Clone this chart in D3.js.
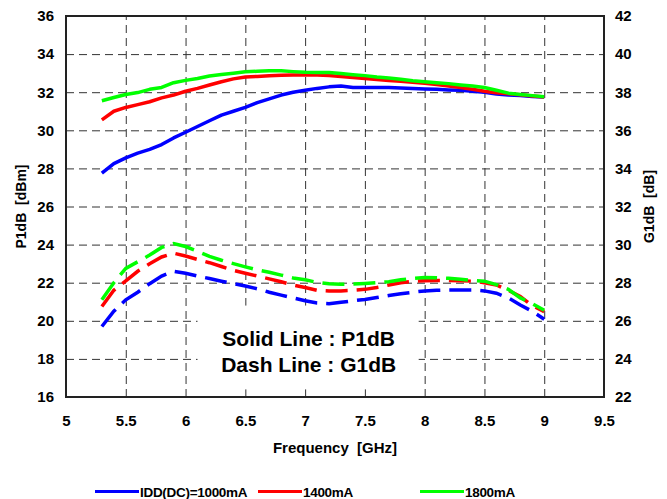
<!DOCTYPE html>
<html>
<head>
<meta charset="utf-8">
<script src="https://cdn.jsdelivr.net/npm/d3@7"></script>
<style>
  body { margin: 0; background: #fff; }
  text { font-family: "Liberation Sans", Arial, sans-serif; font-weight: bold; fill: #000; }
</style>
</head>
<body>
<svg id="chart" width="667" height="499"></svg>
<script>
// frequency points (GHz)
var freq = [5.3, 5.4, 5.5, 5.6, 5.7, 5.8, 5.9, 6.0, 6.1, 6.2, 6.3, 6.4, 6.5, 6.6, 6.7, 6.8, 6.9, 7.0,
            7.1, 7.2, 7.3, 7.4, 7.5, 7.6, 7.7, 7.8, 7.9, 8.0, 8.1, 8.2, 8.3, 8.4, 8.5, 8.6, 8.7, 8.8, 8.9, 9.0];

// P1dB [dBm], left axis (solid lines)
var p1db1000 = [27.75, 28.25, 28.55, 28.8, 29.0, 29.25, 29.6, 29.9, 30.2, 30.5, 30.8, 31.0, 31.2, 31.45, 31.65, 31.85, 32.0, 32.1,
                32.2, 32.28, 32.33, 32.25, 32.25, 32.25, 32.25, 32.22, 32.2, 32.17, 32.15, 32.12, 32.1, 32.05, 32.0, 31.9, 31.85, 31.83, 31.78, 31.75];
var p1db1400 = [30.55, 31.0, 31.2, 31.35, 31.5, 31.7, 31.85, 32.05, 32.2, 32.38, 32.55, 32.7, 32.8, 32.83, 32.86, 32.89, 32.9, 32.9,
                32.9, 32.88, 32.82, 32.77, 32.72, 32.67, 32.62, 32.57, 32.52, 32.47, 32.4, 32.32, 32.24, 32.15, 32.05, 31.97, 31.92, 31.87, 31.8, 31.75];
var p1db1800 = [31.55, 31.72, 31.88, 31.98, 32.15, 32.25, 32.5, 32.62, 32.72, 32.85, 32.93, 33.0, 33.07, 33.1, 33.13, 33.12, 33.08, 33.05,
                33.04, 33.03, 32.98, 32.92, 32.87, 32.8, 32.75, 32.68, 32.6, 32.55, 32.5, 32.45, 32.38, 32.32, 32.25, 32.1, 31.95, 31.88, 31.82, 31.76];

// G1dB [dB], right axis (dashed lines)
var g1db1000 = [25.7, 26.5, 27.1, 27.5, 27.95, 28.35, 28.6, 28.5, 28.35, 28.22, 28.08, 27.95, 27.83, 27.68, 27.5, 27.35, 27.2, 27.05,
                26.93, 26.9, 26.97, 27.05, 27.12, 27.22, 27.33, 27.42, 27.5, 27.57, 27.6, 27.62, 27.62, 27.62, 27.57, 27.45, 27.2, 26.83, 26.5, 26.08];
var g1db1400 = [26.75, 27.6, 28.1, 28.6, 29.0, 29.35, 29.55, 29.4, 29.22, 29.05, 28.85, 28.65, 28.5, 28.35, 28.2, 28.05, 27.88, 27.75,
                27.6, 27.57, 27.57, 27.6, 27.65, 27.75, 27.88, 28.0, 28.07, 28.1, 28.12, 28.12, 28.1, 28.08, 28.0, 27.88, 27.6, 27.27, 26.8, 26.48];
var g1db1800 = [27.1, 28.0, 28.75, 29.1, 29.45, 29.85, 30.05, 29.9, 29.65, 29.38, 29.18, 29.0, 28.83, 28.67, 28.55, 28.4, 28.25, 28.15,
                28.02, 27.95, 27.92, 27.93, 27.96, 28.0, 28.05, 28.15, 28.22, 28.27, 28.26, 28.23, 28.18, 28.12, 28.08, 27.9, 27.65, 27.2, 26.9, 26.55];

var seriesNames = ["IDD(DC)=1000mA", "1400mA", "1800mA"];
var seriesColors = ["#0000ff", "#ff0000", "#00ff00"];

var xTicks = [5, 5.5, 6, 6.5, 7, 7.5, 8, 8.5, 9, 9.5];
var yLeftTicks = [16, 18, 20, 22, 24, 26, 28, 30, 32, 34, 36];
var yRightTicks = [22, 24, 26, 28, 30, 32, 34, 36, 38, 40, 42];

var margin = {top: 16, right: 63, bottom: 102, left: 66},
    width = 667 - margin.left - margin.right,
    height = 499 - margin.top - margin.bottom;

var svg = d3.select("#chart");
var g = svg.append("g").attr("transform", "translate(" + margin.left + "," + margin.top + ")");

var x = d3.scaleLinear().domain([5, 9.5]).range([0, width]);
var yL = d3.scaleLinear().domain([16, 36]).range([height, 0]);
var yR = d3.scaleLinear().domain([22, 42]).range([height, 0]);

// grid
var gridX = g.append("g").attr("transform", "translate(0," + height + ")")
  .call(d3.axisBottom(x).tickValues(xTicks.slice(1, -1)).tickSize(-height).tickFormat(""));
var gridY = g.append("g")
  .call(d3.axisLeft(yL).tickValues(yLeftTicks.slice(1, -1)).tickSize(-width).tickFormat(""));
[gridX, gridY].forEach(function(a) {
  a.select(".domain").remove();
  a.selectAll("line").attr("stroke", "#333").attr("stroke-width", 1).attr("stroke-dasharray", "8,5");
});

// white text box covering the grid
g.append("rect")
  .attr("x", x(6.1)).attr("y", yL(20.8))
  .attr("width", x(7.95) - x(6.1)).attr("height", yL(16.4) - yL(20.8))
  .attr("fill", "#fff");

// lines
var solid = d3.line().x(function(d, i) { return x(freq[i]); }).y(function(d) { return yL(d); });
var dashed = d3.line().x(function(d, i) { return x(freq[i]); }).y(function(d) { return yR(d); });

var p1 = [p1db1000, p1db1400, p1db1800];
var g1 = [g1db1000, g1db1400, g1db1800];

g1.forEach(function(s, k) {
  g.append("path").datum(s)
    .attr("d", dashed)
    .attr("fill", "none")
    .attr("stroke", seriesColors[k])
    .attr("stroke-width", 3.5)
    .attr("stroke-dasharray", "22,9");
});
p1.forEach(function(s, k) {
  g.append("path").datum(s)
    .attr("d", solid)
    .attr("fill", "none")
    .attr("stroke", seriesColors[k])
    .attr("stroke-width", 3.5)
    .attr("stroke-linejoin", "round");
});

// frame
g.append("rect").attr("width", width).attr("height", height)
  .attr("fill", "none").attr("stroke", "#222").attr("stroke-width", 2);

// tick labels
var axX = g.append("g").attr("transform", "translate(0," + height + ")")
  .call(d3.axisBottom(x).tickValues(xTicks).tickSize(0).tickPadding(18).tickFormat(d3.format("")));
var axL = g.append("g")
  .call(d3.axisLeft(yL).tickValues(yLeftTicks).tickSize(0).tickPadding(12).tickFormat(d3.format("d")));
var axR = g.append("g").attr("transform", "translate(" + width + ",0)")
  .call(d3.axisRight(yR).tickValues(yRightTicks).tickSize(0).tickPadding(11).tickFormat(d3.format("d")));
[axX, axL, axR].forEach(function(a) {
  a.select(".domain").remove();
  a.selectAll("text").attr("font-size", 15).attr("font-family", null).attr("fill", "#000");
});

// axis titles
svg.append("text")
  .attr("transform", "translate(26," + (margin.top + height / 2) + ") rotate(-90)")
  .attr("text-anchor", "middle").attr("font-size", 14).style("white-space", "pre")
  .text("P1dB  [dBm]");
svg.append("text")
  .attr("transform", "translate(654," + (margin.top + height / 2) + ") rotate(-90)")
  .attr("text-anchor", "middle").attr("font-size", 14).style("white-space", "pre")
  .text("G1dB  [dB]");
svg.append("text")
  .attr("x", margin.left + width / 2).attr("y", 453)
  .attr("text-anchor", "middle").attr("font-size", 15).style("white-space", "pre")
  .text("Frequency  [GHz]");

// annotation
g.append("text").attr("x", x(7.03)).attr("y", yL(18.7))
  .attr("text-anchor", "middle").attr("font-size", 21).text("Solid Line : P1dB");
g.append("text").attr("x", x(7.03)).attr("y", yL(17.3))
  .attr("text-anchor", "middle").attr("font-size", 21).text("Dash Line : G1dB");

// legend
var legendX = [95, 258, 420];
var legend = svg.append("g");
seriesNames.forEach(function(name, k) {
  legend.append("line")
    .attr("x1", legendX[k]).attr("x2", legendX[k] + 44)
    .attr("y1", 491.5).attr("y2", 491.5)
    .attr("stroke", seriesColors[k]).attr("stroke-width", 3);
  legend.append("text")
    .attr("x", legendX[k] + 45).attr("y", 497)
    .attr("font-size", 13.5).attr("letter-spacing", -0.3)
    .text(name);
});
</script>
</body>
</html>
